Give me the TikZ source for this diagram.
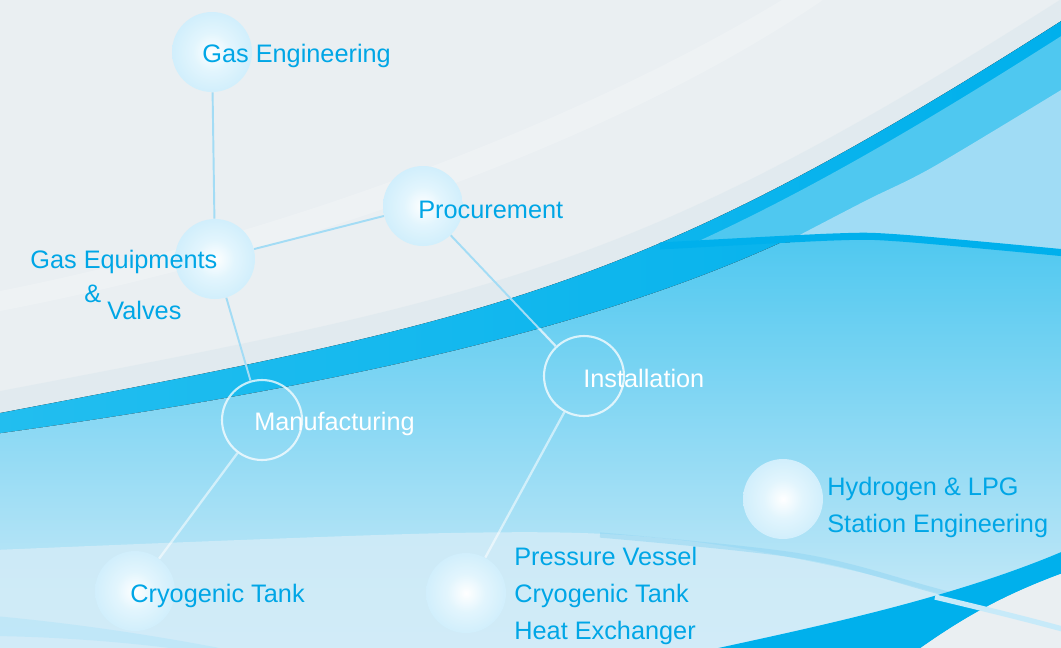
\documentclass[tikz,border=0pt]{standalone}
\usepackage{fontspec}
\setmainfont{Liberation Sans}
\usepackage{tikz}
\definecolor{bggray}{HTML}{EAEFF2}
\definecolor{halo}{HTML}{DCE8EE}
\definecolor{deepblue}{HTML}{00B0EC}
\definecolor{skyband}{HTML}{22BEEF}
\definecolor{midblue}{HTML}{4FC8F0}
\definecolor{paleblue}{HTML}{A0DCF5}
\definecolor{lightband}{HTML}{9CDAF5}
\definecolor{mistblue}{HTML}{D2ECF8}
\definecolor{streakblue}{HTML}{8FD5F3}
\definecolor{bubbleblue}{HTML}{B0E2F9}
\definecolor{bubblecore}{HTML}{E2F5FD}
\definecolor{textblue}{HTML}{00A6E6}
\definecolor{linkblue}{HTML}{A3DCF5}
\pgfdeclareradialshading{bubbleglow}{\pgfpoint{0bp}{0bp}}{color(0bp)=(white); color(12bp)=(bubblecore); color(50bp)=(bubbleblue)}
\newcommand\bubblefont{\fontsize{14.4pt}{21pt}\selectfont}
\tikzset{
  bubble/.style={circle, inner sep=0pt, minimum size=1.6cm, shade, shading=bubbleglow},
  ring/.style={circle, inner sep=0pt, minimum size=1.6cm, draw=white, draw opacity=.75, line width=1.2pt},
  bluetext/.style={text=textblue, font=\bubblefont, inner sep=0pt, anchor=base west, align=left},
  whitetext/.style={bluetext, text=white},
  link/.style={linkblue, line width=1.1pt},
  softlink/.style={white, opacity=.55, line width=1.3pt}
}
\begin{document}
\begin{tikzpicture}[x=0.02cm, y=-0.02cm]
\useasboundingbox (0,0) rectangle (1061,647);
\clip (0,0) rectangle (1061,647);
\fill[bggray] (0,0) rectangle (1061,647);
% swoosh
\fill[white, opacity=.2] (-5,292) .. controls (300,232) and (600,112) .. (790,-5) -- (830,-5) .. controls (640,128) and (320,250) .. (-5,312) -- cycle;
\fill[halo, opacity=.6] (-5,392) .. controls (500,296) and (640,268) .. (1066,-4) -- (1066,652) -- (-5,652) -- cycle;
\fill[left color=skyband, middle color=deepblue, right color=deepblue] (-5,414) .. controls (500,318) and (640,290) .. (1066,18) -- (1066,652) -- (-5,652) -- cycle;
\fill[top color=midblue, middle color=lightband, bottom color=mistblue] (-5,434) .. controls (350,385) and (600,325) .. (780,243) -- plot[smooth, tension=.5] coordinates {(780,243) (900,238) (1066,253)} -- (1066,652) -- (-5,652) -- cycle;
\begin{scope}
  \clip plot[smooth, tension=.5] coordinates {(660,246) (833,237) (900,238) (1066,253)} -- (1066,-5) -- (660,-5) -- cycle;
  \fill[midblue] (-5,429) .. controls (500,333) and (640,305) .. (1066,33) -- (1066,652) -- (-5,652) -- cycle;
  \fill[paleblue] plot[smooth, tension=.5] coordinates {(792,239) (867,200) (933,167) (1066,87)} -- (1066,300) -- (792,300) -- cycle;
\end{scope}
\draw[deepblue, line width=4pt] plot[smooth, tension=.5] coordinates {(660,246) (833,237) (900,238) (1066,253)};
% bottom
\fill[mistblue, opacity=.85] plot[smooth, tension=.55] coordinates {(-5,550) (450,533) (660,538) (850,570) (1066,630)} -- (1066,652) -- (-5,652) -- cycle;
\draw[streakblue, line width=3pt, opacity=.5] plot[smooth, tension=.55] coordinates {(600,535) (800,556) (933,590) (1066,628)};
\fill[streakblue!60, opacity=.8] (-5,616) .. controls (80,624) and (160,636) .. (240,652) -- (200,652) .. controls (130,642) and (60,637) .. (-5,636) -- cycle;
\fill[deepblue] (700,652) .. controls (800,630) and (950,600) .. (1066,550) -- (1066,572) .. controls (1000,596) and (960,620) .. (915,652) -- cycle;
\fill[bggray] (915,652) .. controls (960,620) and (1000,596) .. (1066,572) -- (1066,652) -- cycle;
\draw[streakblue!50, line width=3pt] (935,597) .. controls (985,609) and (1030,620) .. (1066,630);

\node[bubble] (n-gaseng) at (212,52) {};
\node[bubble] (n-gaseq) at (215,259) {};
\node[bubble] (n-proc) at (423,206) {};
\node[ring] (n-manuf) at (262,420) {};
\node[ring] (n-inst) at (584,376) {};
\node[bubble] (n-hydro) at (783,499) {};
\node[bubble] (n-cryo) at (135,591) {};
\node[bubble] (n-vessel) at (466,593) {};

\draw[link] (n-gaseng) -- (n-gaseq);
\draw[link] (n-gaseq) -- (n-proc);
\draw[link] (n-gaseq) -- (n-manuf);
\draw[link] (n-proc) -- (n-inst);
\draw[softlink] (n-manuf) -- (n-cryo);
\draw[softlink] (n-inst) -- (n-vessel);
% whiter where the links run over the light blue
\begin{scope}
  \clip (-5,434) .. controls (350,385) and (600,325) .. (780,243) -- (1066,243) -- (1066,652) -- (-5,652) -- cycle;
  \draw[softlink] (n-gaseq) -- (n-manuf);
  \draw[softlink] (n-proc) -- (n-inst);
\end{scope}

\node[bluetext] (t-gaseng) at (202,62) {Gas Engineering};
\node[bluetext] (t-gaseq) at (30,268) {Gas Equipments};
\node[bluetext] (t-amp) at (84,302) {\&};
\node[bluetext] (t-valves) at (107,319) {Valves};
\node[bluetext] (t-proc) at (418,218) {Procurement};
\node[whitetext] (t-manuf) at (254,430) {Manufacturing};
\node[whitetext] (t-inst) at (583,387) {Installation};
\node[bluetext] (t-hydro) at (827,532) {Hydrogen \& LPG\\Station Engineering};
\node[bluetext] (t-cryo) at (130,602) {Cryogenic Tank};
\node[bluetext] (t-vessel) at (514,639) {Pressure Vessel\\Cryogenic Tank\\Heat Exchanger};
\end{tikzpicture}
\end{document}
